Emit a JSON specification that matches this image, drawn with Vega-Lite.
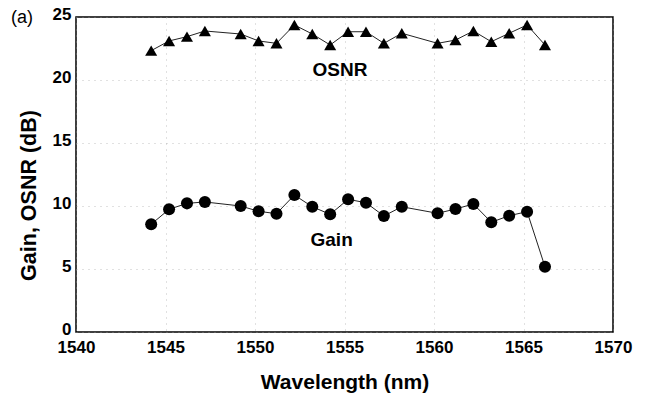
{
  "$schema": "https://vega.github.io/schema/vega-lite/v6.json",
  "width": 537,
  "height": 315,
  "autosize": {"type": "none"},
  "padding": {"left": 76, "top": 17, "right": 34, "bottom": 61},
  "background": "white",
  "config": {
    "view": {"stroke": "black", "strokeWidth": 1.5},
    "font": "Liberation Sans",
    "axis": {
      "domain": false,
      "ticks": false,
      "labelFont": "Liberation Sans",
      "labelFontWeight": "bold",
      "labelFontSize": 17,
      "labelColor": "black",
      "titleFont": "Liberation Sans",
      "titleFontWeight": "bold",
      "titleColor": "black",
      "gridColor": "#999999",
      "gridDash": [1, 5],
      "gridOpacity": 0.6,
      "labelFlush": false,
      "labelOverlap": false
    }
  },
  "datasets": {
    "series": [
      {"series": "OSNR", "wavelength": 1544.2, "value": 22.33},
      {"series": "OSNR", "wavelength": 1545.2, "value": 23.1},
      {"series": "OSNR", "wavelength": 1546.2, "value": 23.44},
      {"series": "OSNR", "wavelength": 1547.2, "value": 23.89},
      {"series": "OSNR", "wavelength": 1549.2, "value": 23.65},
      {"series": "OSNR", "wavelength": 1550.2, "value": 23.1},
      {"series": "OSNR", "wavelength": 1551.2, "value": 22.91},
      {"series": "OSNR", "wavelength": 1552.2, "value": 24.37},
      {"series": "OSNR", "wavelength": 1553.2, "value": 23.65},
      {"series": "OSNR", "wavelength": 1554.2, "value": 22.78},
      {"series": "OSNR", "wavelength": 1555.2, "value": 23.83},
      {"series": "OSNR", "wavelength": 1556.2, "value": 23.83},
      {"series": "OSNR", "wavelength": 1557.2, "value": 22.91},
      {"series": "OSNR", "wavelength": 1558.2, "value": 23.71},
      {"series": "OSNR", "wavelength": 1560.2, "value": 22.91},
      {"series": "OSNR", "wavelength": 1561.2, "value": 23.17},
      {"series": "OSNR", "wavelength": 1562.2, "value": 23.89},
      {"series": "OSNR", "wavelength": 1563.2, "value": 23.04},
      {"series": "OSNR", "wavelength": 1564.2, "value": 23.71},
      {"series": "OSNR", "wavelength": 1565.2, "value": 24.37},
      {"series": "OSNR", "wavelength": 1566.2, "value": 22.78},
      {"series": "Gain", "wavelength": 1544.2, "value": 8.55},
      {"series": "Gain", "wavelength": 1545.2, "value": 9.74},
      {"series": "Gain", "wavelength": 1546.2, "value": 10.21},
      {"series": "Gain", "wavelength": 1547.2, "value": 10.32},
      {"series": "Gain", "wavelength": 1549.2, "value": 10.0},
      {"series": "Gain", "wavelength": 1550.2, "value": 9.58},
      {"series": "Gain", "wavelength": 1551.2, "value": 9.39},
      {"series": "Gain", "wavelength": 1552.2, "value": 10.87},
      {"series": "Gain", "wavelength": 1553.2, "value": 9.94},
      {"series": "Gain", "wavelength": 1554.2, "value": 9.34},
      {"series": "Gain", "wavelength": 1555.2, "value": 10.53},
      {"series": "Gain", "wavelength": 1556.2, "value": 10.26},
      {"series": "Gain", "wavelength": 1557.2, "value": 9.21},
      {"series": "Gain", "wavelength": 1558.2, "value": 9.94},
      {"series": "Gain", "wavelength": 1560.2, "value": 9.42},
      {"series": "Gain", "wavelength": 1561.2, "value": 9.76},
      {"series": "Gain", "wavelength": 1562.2, "value": 10.16},
      {"series": "Gain", "wavelength": 1563.2, "value": 8.71},
      {"series": "Gain", "wavelength": 1564.2, "value": 9.23},
      {"series": "Gain", "wavelength": 1565.2, "value": 9.55},
      {"series": "Gain", "wavelength": 1566.2, "value": 5.18}
    ],
    "labels": [
      {"label": "OSNR", "wavelength": 1554.75, "value": 20.8},
      {"label": "Gain", "wavelength": 1554.28, "value": 7.34}
    ],
    "panel": [
      {"label": "(a)", "wavelength": 1536.98, "value": 24.92}
    ]
  },
  "encoding": {
    "x": {
      "field": "wavelength",
      "type": "quantitative",
      "scale": {"domain": [1540, 1570], "nice": false, "zero": false},
      "axis": {
        "values": [1540, 1545, 1550, 1555, 1560, 1565, 1570],
        "format": "d",
        "labelPadding": 7,
        "title": "Wavelength (nm)",
        "titleFontSize": 21,
        "titleBaseline": "alphabetic",
        "titleY": 56
      }
    },
    "y": {
      "field": "value",
      "type": "quantitative",
      "scale": {"domain": [0, 25], "nice": false},
      "axis": {
        "values": [0, 5, 10, 15, 20, 25],
        "labelPadding": 5,
        "labelOffset": -3,
        "title": "Gain, OSNR (dB)",
        "titleFontSize": 21.5,
        "titleAngle": 270,
        "titleBaseline": "alphabetic",
        "titleAlign": "center",
        "titleX": -41,
        "titleY": 178
      }
    }
  },
  "layer": [
    {
      "data": {"name": "series"},
      "mark": {"type": "line", "color": "#222222", "strokeWidth": 1},
      "encoding": {"detail": {"field": "series", "type": "nominal"}}
    },
    {
      "data": {"name": "series"},
      "mark": {"type": "point", "filled": true, "color": "black", "opacity": 1, "size": 145},
      "encoding": {
        "shape": {
          "field": "series",
          "type": "nominal",
          "scale": {"domain": ["Gain", "OSNR"], "range": ["circle", "triangle-up"]},
          "legend": null
        }
      }
    },
    {
      "data": {"name": "labels"},
      "mark": {"type": "text", "font": "Liberation Sans", "fontWeight": "bold", "fontSize": 19, "color": "black", "align": "center", "baseline": "middle"},
      "encoding": {"text": {"field": "label", "type": "nominal"}}
    },
    {
      "data": {"name": "panel"},
      "mark": {"type": "text", "font": "Liberation Sans", "fontSize": 18, "color": "black", "align": "center", "baseline": "middle", "clip": false},
      "encoding": {"text": {"field": "label", "type": "nominal"}}
    }
  ]
}
